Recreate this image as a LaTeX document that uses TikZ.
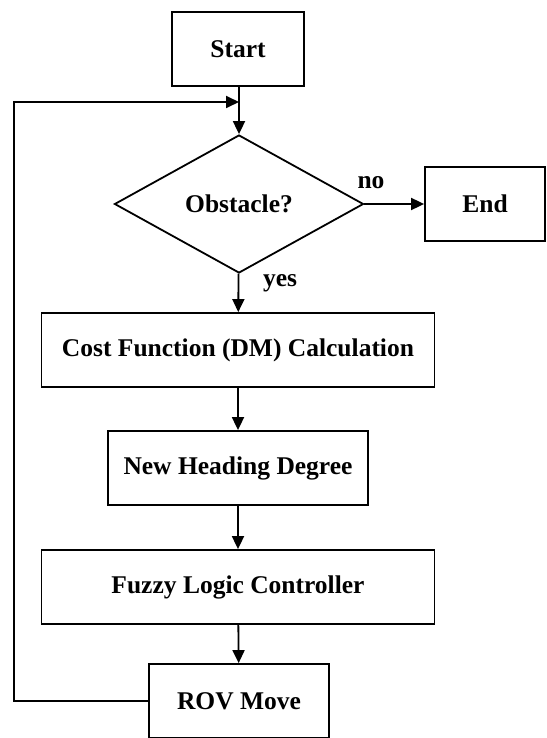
\documentclass[tikz,border=0pt]{standalone}
\usepackage{fontspec}
\setmainfont{Liberation Serif}
\usetikzlibrary{shapes.geometric, arrows.meta, positioning}

\begin{document}
\begin{tikzpicture}[x=1pt, y=1pt, line width=1.8pt,
    box/.style={draw, rectangle, minimum height=74pt, inner sep=0pt,
        font=\fontsize{25.5}{30}\selectfont\bfseries},
    decision/.style={draw, diamond, minimum width=249pt, minimum height=138pt,
        inner sep=0pt, font=\fontsize{25.5}{30}\selectfont\bfseries},
    lbl/.style={inner sep=0pt, font=\fontsize{25.5}{30}\selectfont\bfseries},
    arr/.style={-{Triangle[length=13pt, width=12pt]}}]
\useasboundingbox (0,-738) rectangle (546,0);
\node[box, minimum width=132pt] (start) at (238,-49) {Start};
\node[decision] (obst) at (239,-204) {Obstacle?};
\node[box, minimum width=120pt] (end) at (485,-204) {End};
\node[box, minimum width=393pt] (cost) at (238,-350) {Cost Function (DM) Calculation};
\node[box, minimum width=260pt] (head) at (238,-468) {New Heading Degree};
\node[box, minimum width=393pt] (fuzzy) at (238,-587) {Fuzzy Logic Controller};
\node[box, minimum width=180pt] (rov) at (239,-701) {ROV Move};
\node[lbl] (no) at (371,-183) {no};
\node[lbl] (yes) at (280,-283) {yes};
\coordinate (corner) at (14,-102);
\draw[arr] (start.south -| obst.north) -- (obst.north);
\draw[arr] (obst) -- (end);
\draw[arr] (obst) -- (cost);
\draw[arr] (cost) -- (head);
\draw[arr] (head) -- (fuzzy);
\draw[arr] (fuzzy) -- (rov);
\draw[arr] (rov.west) -| (corner) -- (corner -| obst.north);
\end{tikzpicture}
\end{document}
